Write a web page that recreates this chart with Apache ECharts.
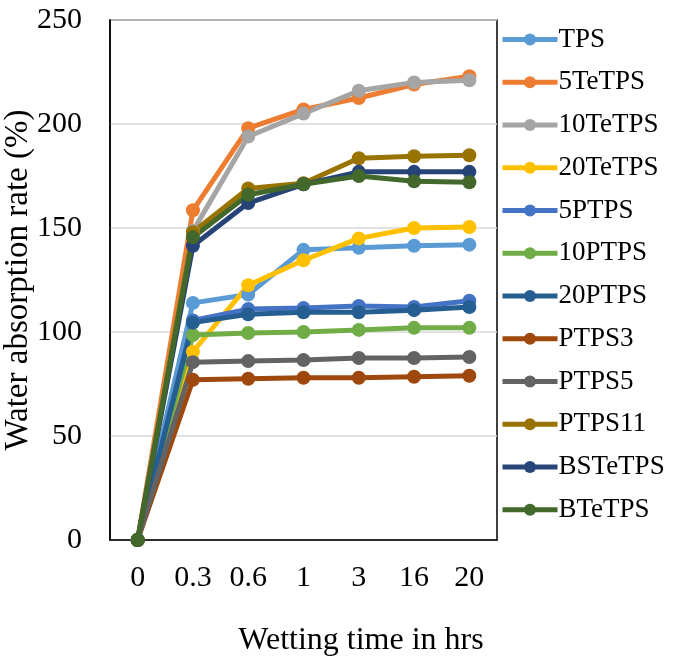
<!DOCTYPE html>
<html><head><meta charset="utf-8">
<script src="https://cdn.jsdelivr.net/npm/echarts@6/dist/echarts.min.js"></script>
<style>html,body{margin:0;padding:0;background:#fff}#c{width:674px;height:659px}</style>
</head><body><div id="c"></div>
<script>
var categories = ['0','0.3','0.6','1','3','16','20'];
var seriesNames = ['TPS','5TeTPS','10TeTPS','20TeTPS','5PTPS','10PTPS','20PTPS','PTPS3','PTPS5','PTPS11','BSTeTPS','BTeTPS'];
var TPS      = [0,114,118,139.5,140.5,141.5,142];
var TeTPS5   = [0,158.5,198,207,212.5,219,223];
var TeTPS10  = [0,148.5,194,205,216,220,221];
var TeTPS20  = [0,90.5,122.5,134.5,145,150,150.5];
var PTPS5p   = [0,105.5,111,111.5,112.5,112,115];
var PTPS10p  = [0,98.5,99.5,100,101,102,102];
var PTPS20p  = [0,104.5,108.5,109.5,109.5,110.5,112];
var PTPS3    = [0,77,77.5,78,78,78.5,79];
var PTPS5    = [0,85.5,86,86.5,87.5,87.5,88];
var PTPS11   = [0,148,169,171.5,183.5,184.5,185];
var BSTeTPS  = [0,141.5,162,171,177,177,177];
var BTeTPS   = [0,145.5,166,171,175,172.5,172];
var yTicks = [0,50,100,150,200,250];

var values = [TPS,TeTPS5,TeTPS10,TeTPS20,PTPS5p,PTPS10p,PTPS20p,PTPS3,PTPS5,PTPS11,BSTeTPS,BTeTPS];
var colors = ['#5B9BD5','#ED7D31','#A5A5A5','#FFC000','#4472C4','#70AD47','#255E91','#9E480E','#636363','#997300','#264478','#43682B'];
var font = 'Liberation Serif';

var chart = echarts.init(document.getElementById('c'));
chart.setOption({
  animation:false,
  color:colors,
  grid:{left:110,right:177,top:20,bottom:119,containLabel:false,outerBoundsMode:'none',
    show:true,borderColor:'#000',borderWidth:1.5},
  legend:{orient:'vertical',left:500,top:26,padding:0,itemWidth:55,itemHeight:15,itemGap:15.75,
    lineStyle:{width:5},
    textStyle:{fontFamily:font,fontSize:27,color:'#000',padding:[0,0,0,-4]},
    data:seriesNames},
  xAxis:{type:'category',data:categories,boundaryGap:true,
    axisLine:{lineStyle:{color:'#000',width:1.5}},axisTick:{show:false},
    axisLabel:{fontFamily:font,fontSize:30,color:'#000',margin:23},
    name:'Wetting time in hrs',nameLocation:'middle',nameGap:85,nameMoveOverlap:false,
    nameTextStyle:{fontFamily:font,fontSize:32,color:'#000',padding:[0,0,0,115]}},
  yAxis:{type:'value',min:0,max:250,interval:50,
    axisLine:{show:true,lineStyle:{color:'#000',width:1.5}},axisTick:{show:false},
    splitLine:{lineStyle:{color:'#D9D9D9',width:1.5}},
    axisLabel:{fontFamily:font,fontSize:30,color:'#000',margin:28},
    name:'Water absorption rate (%)',nameLocation:'middle',nameGap:75,nameMoveOverlap:false,
    nameTextStyle:{fontFamily:font,fontSize:33,color:'#000'}},
  series:seriesNames.map(function(n,i){return {
    name:n,type:'line',data:values[i],symbol:'circle',symbolSize:14,
    lineStyle:{width:5,color:colors[i]},itemStyle:{color:colors[i]}};})
});
</script></body></html>
